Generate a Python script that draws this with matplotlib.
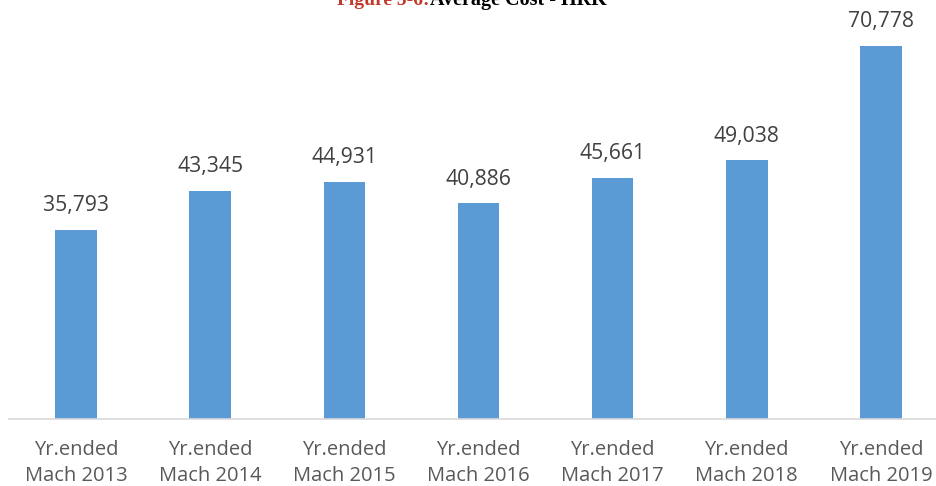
import matplotlib
matplotlib.use("Agg")
import matplotlib.pyplot as plt

categories = ["Yr.ended\nMach 2013", "Yr.ended\nMach 2014", "Yr.ended\nMach 2015",
              "Yr.ended\nMach 2016", "Yr.ended\nMach 2017", "Yr.ended\nMach 2018",
              "Yr.ended\nMach 2019"]
values = [35793, 43345, 44931, 40886, 45661, 49038, 70778]
title_red = "Figure 5-6:"
title_black = "Average Cost - HRK"

W, H = 937, 486
fig = plt.figure(figsize=(W / 100, H / 100), dpi=100)
ax = fig.add_axes([9 / W, 67 / H, 939 / W, 398 / H])

x = list(range(len(values)))
bars = ax.bar(x, values, width=0.31, color="#5B9BD5")
ax.set_xlim(-0.5, len(values) - 0.5)
ax.set_ylim(0, 75500)

font = "Open Sans"
for xi, v in zip(x, values):
    ax.annotate(f"{v:,}", (xi, v), xytext=(0, 10), textcoords="offset points",
                ha="center", va="bottom", fontsize=15.2, color="#404040", family=font)

ax.set_xticks(x)
ax.set_xticklabels(categories, fontsize=14.5, color="#595959", family=font, linespacing=1.4)
ax.tick_params(axis="x", length=0, pad=15)
ax.set_yticks([])
for s in ["top", "right", "left"]:
    ax.spines[s].set_visible(False)
ax.spines["bottom"].set_color("#D9D9D9")
ax.spines["bottom"].set_linewidth(1.2)

ty = (H - 5) / H
fig.text(430 / W, ty, title_red, ha="right", va="baseline", fontsize=14,
         fontweight="bold", color="#C0392B", family="Liberation Serif")
fig.text(430 / W, ty, title_black, ha="left", va="baseline", fontsize=14.5,
         fontweight="bold", color="black", family="Liberation Serif")

fig.savefig("out.png", dpi=100)
